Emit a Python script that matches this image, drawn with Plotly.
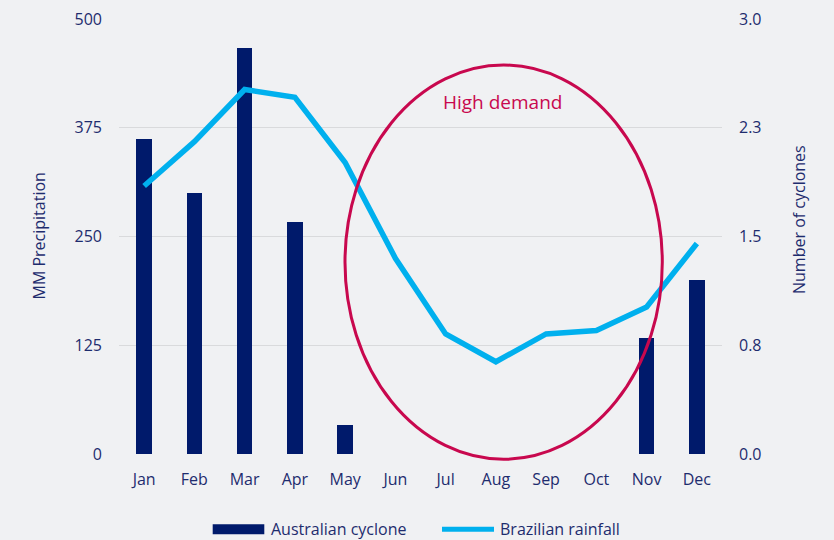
import plotly.graph_objects as go

# Monthly data
months = ["Jan", "Feb", "Mar", "Apr", "May", "Jun", "Jul", "Aug", "Sep", "Oct", "Nov", "Dec"]
cyclones = [2.17, 1.8, 2.8, 1.6, 0.2, 0, 0, 0, 0, 0, 0.8, 1.2]          # Australian cyclone (count)
rainfall = [308, 359, 419, 410, 335, 225, 138, 106, 138, 142, 169, 242]  # Brazilian rainfall (mm)

precip_ticks = [0, 125, 250, 375, 500]
cyclone_ticks = [0, 0.75, 1.5, 2.25, 3.0]
cyclone_labels = ["0.0", "0.8", "1.5", "2.3", "3.0"]

W, H = 834, 540
L, R, T, B = 119, 112, 19, 86

NAVY = "#001A6B"
SKY = "#00B0EE"
CRIMSON = "#C8084E"
TEXT = "#1E2C6E"
BG = "#F0F1F3"
GRID = "#D9DADC"
FONT = "Open Sans"


def px_x(p):
    return (p - L) / (W - L - R)


def px_y(p):
    return (H - B - p) / (H - T - B)


fig = go.Figure()

fig.add_trace(go.Bar(
    x=months, y=cyclones, name="Australian cyclone",
    marker=dict(color=NAVY, line=dict(width=0)),
    width=0.31, yaxis="y", showlegend=False,
))

fig.add_trace(go.Scatter(
    x=months, y=rainfall, name="Brazilian rainfall", mode="lines",
    line=dict(color=SKY, width=5.5), yaxis="y2", showlegend=False,
))

tickfont = dict(family=FONT, size=16, color=TEXT)

fig.update_layout(
    width=W, height=H,
    margin=dict(l=L, r=R, t=T, b=B, pad=0),
    paper_bgcolor=BG, plot_bgcolor=BG,
    font=dict(family=FONT, color=TEXT),
    bargap=0,
    xaxis=dict(
        type="category", tickfont=tickfont, showgrid=False, zeroline=False,
        showline=False, ticks="", ticklabelstandoff=14, automargin=False,
    ),
    yaxis=dict(
        side="right", range=[0, 3], tickvals=cyclone_ticks, ticktext=cyclone_labels,
        tickfont=tickfont, showgrid=True, gridcolor=GRID, gridwidth=1.3,
        zeroline=False, showline=False, ticks="", ticklabelstandoff=16,
        automargin=False,
    ),
    yaxis2=dict(
        side="left", overlaying="y", range=[0, 500], tickvals=precip_ticks,
        tickfont=tickfont, showgrid=False, zeroline=False, showline=False,
        ticks="", ticklabelstandoff=16, automargin=False,
    ),
)

# "High demand" highlight ellipse
fig.add_shape(
    type="circle", xref="x domain", yref="y domain",
    x0=px_x(345), x1=px_x(662.3), y0=px_y(459.3), y1=px_y(65),
    line=dict(color=CRIMSON, width=3), layer="above",
)
fig.add_annotation(
    text="High demand", xref="paper", yref="paper",
    x=px_x(502), y=px_y(102.5), xanchor="center", yanchor="middle",
    showarrow=False, font=dict(family=FONT, size=19, color=CRIMSON),
)

# Axis titles
fig.add_annotation(
    text="MM Precipitation", xref="paper", yref="paper",
    x=px_x(38), y=px_y(236.5), textangle=-90, xanchor="center", yanchor="middle",
    showarrow=False, font=dict(family=FONT, size=16, color=TEXT),
)
fig.add_annotation(
    text="Number of cyclones", xref="paper", yref="paper",
    x=px_x(799), y=px_y(220), textangle=-90, xanchor="center", yanchor="middle",
    showarrow=False, font=dict(family=FONT, size=16, color=TEXT),
)

# Legend
fig.add_shape(
    type="rect", xref="paper", yref="paper",
    x0=px_x(212.7), x1=px_x(264.3), y0=px_y(534.3), y1=px_y(524.3),
    fillcolor=NAVY, line=dict(width=0),
)
fig.add_annotation(
    text="Australian cyclone", xref="paper", yref="paper",
    x=px_x(269), y=px_y(529), xanchor="left", yanchor="middle",
    showarrow=False, font=dict(family=FONT, size=16, color=TEXT),
)
fig.add_shape(
    type="line", xref="paper", yref="paper",
    x0=px_x(442), x1=px_x(494), y0=px_y(529.3), y1=px_y(529.3),
    line=dict(color=SKY, width=5),
)
fig.add_annotation(
    text="Brazilian rainfall", xref="paper", yref="paper",
    x=px_x(498), y=px_y(529), xanchor="left", yanchor="middle",
    showarrow=False, font=dict(family=FONT, size=16, color=TEXT),
)

fig.write_html("out.html")
